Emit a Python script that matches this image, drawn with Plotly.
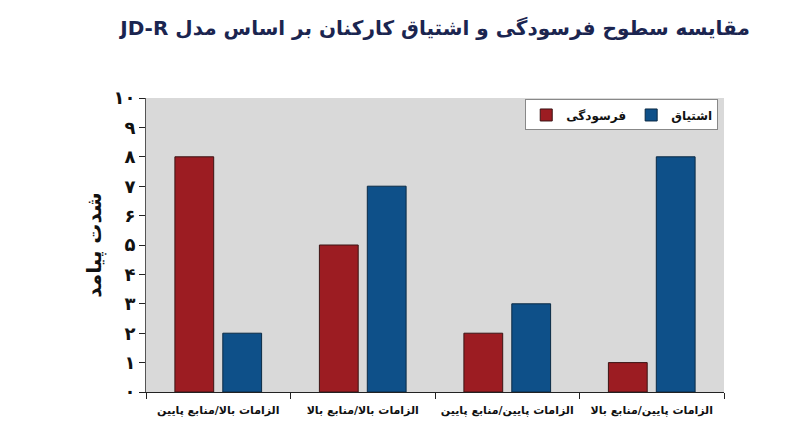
import plotly.graph_objects as go

# data
categories = [
    "الزامات بالا/منابع پایین",
    "الزامات بالا/منابع بالا",
    "الزامات پایین/منابع پایین",
    "الزامات پایین/منابع بالا",
]
burnout = [8, 5, 2, 1]
engagement = [2, 7, 3, 8]
y_ticks = list(range(11))
y_tick_labels = ["۰", "۱", "۲", "۳", "۴", "۵", "۶", "۷", "۸", "۹", "۱۰"]

FONT = "DejaVu Sans"
RED = "#9C1C22"
BLUE = "#0E5089"

# RLE ... PDF so the title lays out right-to-left
title_text = "\u202bمقایسه سطوح فرسودگی و اشتیاق کارکنان بر اساس مدل JD-R\u202c"

fig = go.Figure()
fig.add_trace(go.Bar(
    x=categories, y=burnout, name="فرسودگی",
    marker=dict(color=RED, line=dict(color="#3b1414", width=1)),
))
fig.add_trace(go.Bar(
    x=categories, y=engagement, name="اشتیاق",
    marker=dict(color=BLUE, line=dict(color="#0a2a45", width=1)),
))

fig.update_layout(
    width=800, height=447,
    margin=dict(l=138, r=84, t=90, b=63),
    paper_bgcolor="white",
    plot_bgcolor="#D9D9D9",
    barmode="group",
    bargap=0.337,
    bargroupgap=0.19,
    font=dict(family=FONT, color="#111111"),
    title=dict(
        text="<b>" + title_text + "</b>",
        x=0.5, xref="paper", xanchor="center",
        y=0.955, yref="container", yanchor="middle",
        font=dict(size=20, color="#1B2550", family=FONT),
    ),
    showlegend=True,
    legend=dict(
        orientation="h",
        x=0.99, xanchor="right", y=0.995, yanchor="top",
        bgcolor="white", bordercolor="#888888", borderwidth=1,
        font=dict(size=12, family=FONT, color="#111111", weight="bold"),
        itemwidth=30,
        traceorder="normal",
    ),
)

fig.update_xaxes(
    showline=True, linecolor="#222222", linewidth=1,
    ticks="outside", tickson="boundaries", ticklen=6, tickcolor="#222222",
    tickfont=dict(size=11, family=FONT, color="#111111", weight="bold"),
    tickangle=0, automargin=False, ticklabelstandoff=8,
    showgrid=False,
)
fig.update_yaxes(
    range=[0, 10],
    tickvals=y_ticks, ticktext=y_tick_labels,
    showline=True, linecolor="#555555", linewidth=1,
    ticks="outside", ticklen=6, tickcolor="#222222",
    tickfont=dict(size=18, family=FONT, color="#111111", weight="bold"),
    showgrid=False, zeroline=False,
    title=dict(text="<b>شدت پیامد</b>", font=dict(size=20, family=FONT), standoff=6),
)

fig.write_html("out.html")
